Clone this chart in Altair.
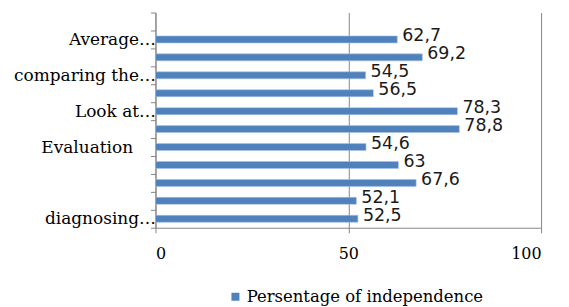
import json
import altair as alt
import pandas as pd

# Categories top to bottom (the top band is empty in the reference)
category_ids = list(range(12))
category_labels = ["", "Average…", "", "comparing the…", "", "Look at…", "",
                   "Evaluation", "", "", "", "diagnosing…"]
values = [None, 62.7, 69.2, 54.5, 56.5, 78.3, 78.8, 54.6, 63, 67.6, 52.1, 52.5]
series_name = "Persentage of independence"
x_ticks = [0, 50, 100]

df = pd.DataFrame({"cat": category_ids, "value": values, "series": series_name})

label_expr = json.dumps(category_labels, ensure_ascii=False) + "[datum.value]"

y_enc = alt.Y(
    "cat:O",
    scale=alt.Scale(domain=category_ids, paddingInner=0, paddingOuter=0),
    axis=alt.Axis(
        title=None,
        labelExpr=label_expr,
        tickBand="extent",
        tickSize=5,
        tickColor="#868686",
        domainColor="#868686",
        labelFont="DejaVu Serif",
        labelFontSize=17,
        labelColor="#000000",
        labelPadding={"condition": {"test": "datum.value == 7", "value": 18}, "value": -5},
        labelLimit=0,
        grid=False,
    ),
)

x_enc = alt.X(
    "value:Q",
    scale=alt.Scale(domain=[0, 100], nice=False),
    axis=alt.Axis(
        title=None,
        values=x_ticks,
        tickSize=5,
        tickColor="#868686",
        domainColor="#868686",
        gridColor="#868686",
        grid=True,
        labelFont="DejaVu Serif",
        labelFontSize=16,
        labelColor="#000000",
        labelPadding=13,
    ),
)

base = alt.Chart(df)

bars = base.mark_bar(size=7, stroke="#a9c1e0", strokeWidth=0.6).encode(
    y=y_enc,
    x=x_enc,
    color=alt.Color(
        "series:N",
        scale=alt.Scale(range=["#4F81BD"]),
        legend=alt.Legend(
            title=None,
            orient="none",
            legendX=72,
            legendY=277,
            symbolType="square",
            symbolSize=64,
            symbolStrokeWidth=0,
            labelFont="DejaVu Serif",
            labelFontSize=16.5,
            labelColor="#000000",
            labelLimit=0,
            padding=0,
            labelOffset=3,
        ),
    ),
)

texts = base.transform_calculate(
    label="replace(toString(datum.value), '.', ',')"
).mark_text(
    align="left", baseline="middle", dx=5, dy=-3,
    font="DejaVu Sans", fontSize=17.5, color="#1a1a1a",
).encode(
    y=alt.Y("cat:O"),
    x=alt.X("value:Q"),
    text="label:N",
)

chart = (bars + texts).properties(
    width=387,
    height=216,
    autosize="none",
    padding={"left": 148, "top": 4, "right": 20, "bottom": 79},
).configure_view(stroke=None)

chart.save("out.html", embed_options={"renderer": "svg", "actions": False})
